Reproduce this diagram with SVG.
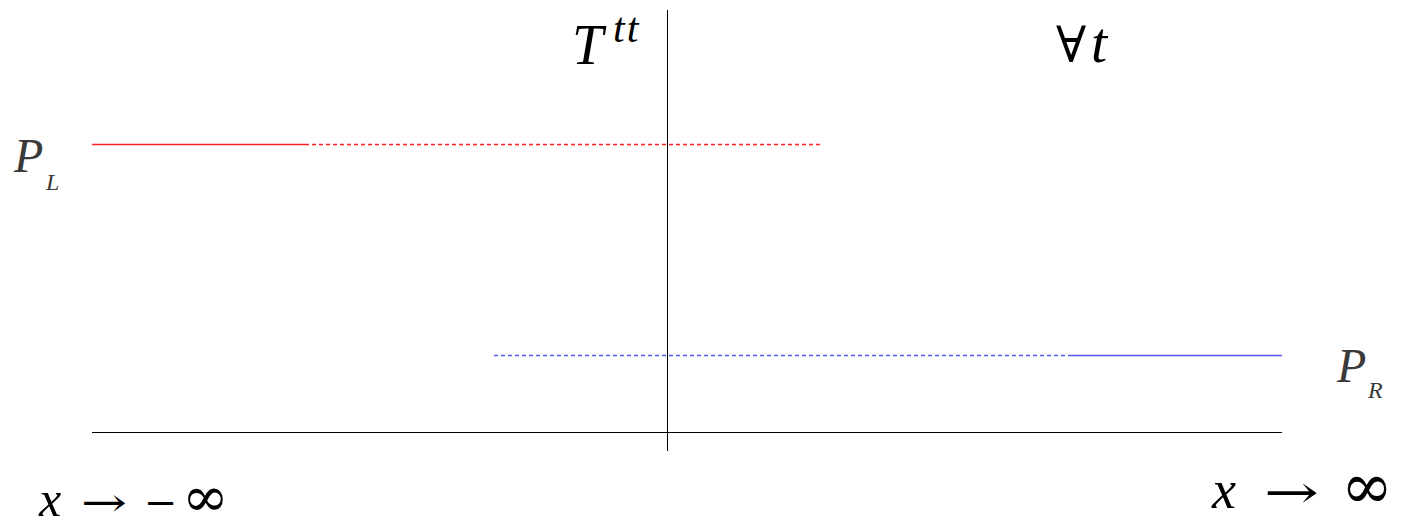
<svg xmlns="http://www.w3.org/2000/svg" width="1402" height="528" viewBox="0 0 1402 528">
<style>
.m{font-family:"Liberation Serif","Times New Roman",serif;font-style:italic;fill:#000}
.u{font-family:"DejaVu Serif",serif;font-style:normal;font-weight:normal;fill:#000}
.g{fill:#3a3a3a}
.ax{stroke:#000;stroke-width:1;fill:none}
.r{stroke:#ff2020;stroke-width:1.3;fill:none}
.b{stroke:#5555ff;stroke-width:1.3;fill:none}
.d{stroke-dasharray:4 3}
</style>
<rect width="1402" height="528" fill="#fff"/>
<g id="connectors">
<line class="ax" x1="92" y1="432.5" x2="1282" y2="432.5"/>
<line class="ax" x1="667.5" y1="10" x2="667.5" y2="451"/>
<line class="r" x1="92" y1="144.5" x2="305" y2="144.5"/>
<line class="r d" x1="305" y1="144.5" x2="820" y2="144.5"/>
<line class="b d" x1="494" y1="355.5" x2="1072" y2="355.5"/>
<line class="b" x1="1072" y1="355.5" x2="1282" y2="355.5"/>
</g>
<g id="PL"><text class="m g" x="14" y="172" font-size="48">P</text><text class="m g" x="46" y="190" font-size="24">L</text></g>
<g id="PR"><text class="m g" x="1337" y="382" font-size="48">P</text><text class="m g" x="1368" y="398" font-size="24">R</text></g>
<g id="Ttt"><text class="m" x="572" y="64" font-size="56">T</text><text class="m" x="613" y="42" font-size="42" letter-spacing="2">tt</text></g>
<g id="forall"><text class="u" x="1056" y="62" font-size="50">∀</text><text class="m" x="1091" y="62" font-size="58">t</text></g>
<g id="xminus"><text class="m" x="39" y="516" font-size="50">x</text><text class="u" x="81" y="516" font-size="40" textLength="46" lengthAdjust="spacingAndGlyphs">→</text><text class="u" x="144" y="516" font-size="40">−</text><text class="u" x="182" y="516" font-size="56">∞</text></g>
<g id="xplus"><text class="m" x="1212" y="508" font-size="54">x</text><text class="u" x="1264" y="508" font-size="46" textLength="55" lengthAdjust="spacingAndGlyphs">→</text><text class="u" x="1341" y="508" font-size="64" textLength="52" lengthAdjust="spacingAndGlyphs">∞</text></g>
</svg>
